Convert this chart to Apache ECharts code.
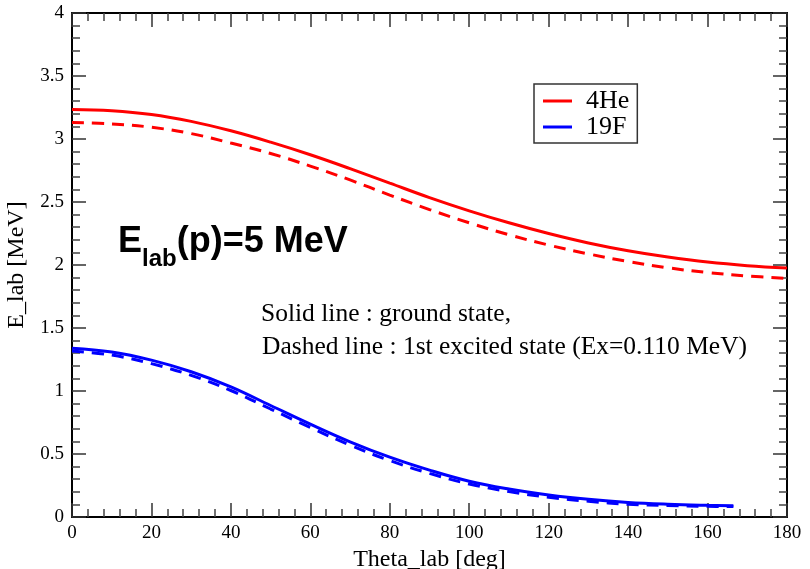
<!DOCTYPE html>
<html>
<head>
<meta charset="utf-8">
<script src="https://cdn.jsdelivr.net/npm/echarts@6/dist/echarts.min.js"></script>
<style>
  html, body { margin: 0; padding: 0; background: #fff; }
  #chart { width: 810px; height: 569px; }
</style>
</head>
<body>
<div id="chart"></div>
<script>
// theta_lab [deg] sample points
const theta = [0, 10, 20, 30, 40, 50, 60, 70, 80, 90, 100, 110, 120, 130, 140, 150, 160, 170, 180]
const thetaF = [0, 10, 20, 30, 40, 50, 60, 70, 80, 90, 100, 110, 120, 130, 140, 150, 160, 166.5]

// 4He, ground state / 1st excited state
const heGround = [3.235, 3.225, 3.195, 3.14, 3.065, 2.975, 2.875, 2.765, 2.65, 2.535, 2.43, 2.335, 2.25, 2.175, 2.113, 2.063, 2.023, 1.995, 1.977]
const heExcited = [3.13, 3.12, 3.093, 3.043, 2.968, 2.885, 2.785, 2.675, 2.555, 2.44, 2.335, 2.24, 2.158, 2.088, 2.028, 1.978, 1.94, 1.913, 1.894]

// 19F, ground state / 1st excited state
const fGround = [1.34, 1.31, 1.245, 1.153, 1.033, 0.885, 0.737, 0.597, 0.475, 0.372, 0.284, 0.222, 0.175, 0.14, 0.115, 0.101, 0.093, 0.09]
const fExcited = [1.317, 1.285, 1.217, 1.124, 1.004, 0.857, 0.71, 0.57, 0.448, 0.346, 0.262, 0.202, 0.157, 0.125, 0.101, 0.091, 0.085, 0.083]

const serif = 'Liberation Serif'

const pairs = (xs, ys) => xs.map((x, i) => [x, ys[i]])

function lineSeries(name, xs, ys, color, dashed) {
    return {
        name: name,
        type: 'line',
        data: pairs(xs, ys),
        showSymbol: false,
        smooth: 0.4,
        lineStyle: {color: color, width: 3, type: dashed ? [12, 8] : 'solid'},
        itemStyle: {color: color},
        z: dashed ? 2 : 3
    }
}

function mirrorAxis(pos, min, max, interval) {
    return {
        type: 'value', position: pos, min: min, max: max, interval: interval,
        axisLine: {show: true, onZero: false, lineStyle: {color: '#000', width: 2}},
        axisTick: {show: true, inside: true, length: 14, lineStyle: {color: '#333', width: 1.5}},
        minorTick: {show: true, splitNumber: 5, length: 8, lineStyle: {color: '#444', width: 1.5}},
        axisLabel: {show: false},
        splitLine: {show: false}
    }
}

const chart = echarts.init(document.getElementById('chart'))
chart.setOption({
    animation: false,
    backgroundColor: '#fff',
    grid: {left: 72, right: 23, top: 13, bottom: 52, containLabel: false, outerBoundsMode: 'none'},
    legend: {
        data: ['4He', '19F'],
        orient: 'vertical',
        left: 534, top: 84,
        icon: 'rect', itemWidth: 29, itemHeight: 3, itemGap: 0,
        padding: [4, 8, 3, 9],
        borderColor: '#333', borderWidth: 1.5,
        textStyle: {fontFamily: serif, fontSize: 26, color: '#000', padding: [0, 0, 0, 9]}
    },
    xAxis: [{
        type: 'value', position: 'bottom', min: 0, max: 180, interval: 20,
        name: 'Theta_lab [deg]', nameLocation: 'middle', nameGap: 27,
        nameTextStyle: {fontFamily: serif, fontSize: 24, color: '#000'},
        axisLine: {show: true, onZero: false, lineStyle: {color: '#000', width: 2}},
        axisTick: {show: true, inside: true, length: 14, lineStyle: {color: '#333', width: 1.5}},
        minorTick: {show: true, splitNumber: 5, length: 8, lineStyle: {color: '#444', width: 1.5}},
        axisLabel: {fontFamily: serif, fontSize: 19, color: '#000', margin: 7},
        splitLine: {show: false}
    }, mirrorAxis('top', 0, 180, 20)],
    yAxis: [{
        type: 'value', position: 'left', min: 0, max: 4, interval: 0.5,
        name: 'E_lab [MeV]', nameLocation: 'middle', nameGap: 43,
        nameTextStyle: {fontFamily: serif, fontSize: 24, color: '#000'},
        axisLine: {show: true, onZero: false, lineStyle: {color: '#000', width: 2}},
        axisTick: {show: true, inside: true, length: 14, lineStyle: {color: '#333', width: 1.5}},
        minorTick: {show: true, splitNumber: 5, length: 8, lineStyle: {color: '#444', width: 1.5}},
        axisLabel: {fontFamily: serif, fontSize: 19, color: '#000', margin: 8},
        splitLine: {show: false}
    }, mirrorAxis('right', 0, 4, 0.5)],
    series: [
        lineSeries('4He excited', theta, heExcited, '#ff0000', true),
        lineSeries('19F excited', thetaF, fExcited, '#0000ff', true),
        lineSeries('4He', theta, heGround, '#ff0000', false),
        lineSeries('19F', thetaF, fGround, '#0000ff', false)
    ],
    graphic: [{
        type: 'text', left: 118, top: 224,
        style: {
            text: '{m|E}{s|lab}{m|(p)=5 MeV}',
            rich: {
                m: {fontFamily: 'Liberation Sans', fontWeight: 'bold', fontSize: 36, color: '#000', lineHeight: 47, verticalAlign: 'top'},
                s: {fontFamily: 'Liberation Sans', fontWeight: 'bold', fontSize: 24, color: '#000', lineHeight: 47, verticalAlign: 'bottom'}
            }
        }
    }, {
        type: 'text',
        style: {text: 'Solid line : ground state,', x: 261, y: 314, fontFamily: serif, fontSize: 25.5, fill: '#000', verticalAlign: 'middle'}
    }, {
        type: 'text',
        style: {text: 'Dashed line : 1st excited state (Ex=0.110 MeV)', x: 262, y: 347, fontFamily: serif, fontSize: 25.5, fill: '#000', verticalAlign: 'middle'}
    }]
})
</script>
</body>
</html>
